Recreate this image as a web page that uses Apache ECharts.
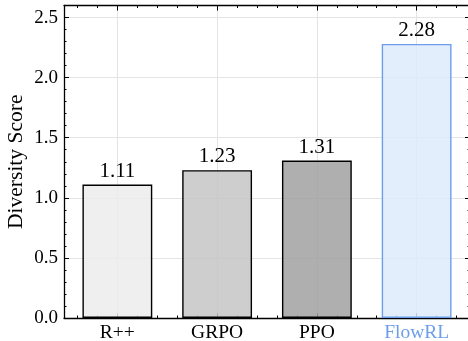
<!DOCTYPE html>
<html><head><meta charset="utf-8">
<script src="https://cdn.jsdelivr.net/npm/echarts@6/dist/echarts.min.js"></script>
<style>html,body{margin:0;padding:0;background:#fff}#c{width:468px;height:341px}</style>
</head><body><div id="c"></div>
<script>
// ---- data ----
const categories = ['R++', 'GRPO', 'PPO', 'FlowRL'];
const values = [1.11, 1.23, 1.31, 2.28];
const yTickValues = [0, 0.5, 1.0, 1.5, 2.0, 2.5];
const yMax = 2.6;

// ---- styles ----
const barFill = ['rgba(236,236,236,0.85)', 'rgba(198,198,198,0.85)', 'rgba(161,161,161,0.85)', 'rgba(222,235,253,0.85)'];
const barEdge = ['#000', '#000', '#000', '#6d9eeb'];
const labelColors = ['#000', '#000', '#000', '#6d9eeb'];
const FONT = 'Liberation Serif';
const SPINE = { color: '#000', width: 1.3 };
const GRID = { color: '#e4e4e4', width: 1 };

const xMin = -0.535, xMax = categories.length - 1 + 0.535;
const majorX = categories.map((_, i) => i);
const minorX = [];
for (let k = -2; k <= (categories.length - 1) * 5 + 2; k++) if (k % 5 !== 0) minorX.push(+(k * 0.2).toFixed(2));
const minorY = [];
for (let k = 1; k <= 25; k++) if (k % 5 !== 0) minorY.push(+(k * 0.1).toFixed(2));

function xAx(pos, ticks, len, withLabels, withLine, withSplit) {
  return {
    type: 'value', position: pos, min: xMin, max: xMax,
    axisLine: { show: withLine, onZero: false, lineStyle: SPINE },
    axisTick: { show: true, inside: true, length: len, customValues: ticks, lineStyle: { color: '#000', width: 1 } },
    axisLabel: withLabels ? {
      show: true, customValues: ticks, margin: 5,
      fontFamily: FONT, fontSize: 19.5,
      formatter: v => categories[Math.round(v)] || '',
      color: (v) => labelColors[Math.round(v)] || '#000'
    } : { show: false },
    splitLine: { show: withSplit, lineStyle: GRID }
  };
}
function yAx(pos, ticks, len, withLabels, withLine, withSplit, name) {
  const a = {
    type: 'value', position: pos, min: 0, max: yMax,
    axisLine: { show: withLine, onZero: false, lineStyle: SPINE },
    axisTick: { show: true, inside: true, length: len, customValues: ticks, lineStyle: { color: '#000', width: 1 } },
    axisLabel: withLabels ? {
      show: true, customValues: ticks, margin: 6,
      fontFamily: FONT, fontSize: 19, color: '#000',
      formatter: v => v.toFixed(1)
    } : { show: false },
    splitLine: { show: withSplit, lineStyle: GRID }
  };
  if (name) {
    a.name = name; a.nameLocation = 'middle'; a.nameGap = 37; a.nameMoveOverlap = false;
    a.nameTextStyle = { fontFamily: FONT, fontSize: 21.5, color: '#000' };
  }
  return a;
}

const chart = echarts.init(document.getElementById('c'), null, { renderer: 'canvas' });
chart.setOption({
  animation: false,
  backgroundColor: '#fff',
  grid: { left: 64, right: -2, top: 5.5, bottom: 23, containLabel: false, outerBoundsMode: 'none' },
  xAxis: [
    xAx('bottom', majorX, 5, true, true, true),
    xAx('bottom', minorX, 2.5, false, false, false),
    xAx('top', majorX, 5, false, true, false),
    xAx('top', minorX, 2.5, false, false, false)
  ],
  yAxis: [
    yAx('left', yTickValues, 5, true, true, true, 'Diversity Score'),
    yAx('left', minorY, 2.5, false, false, false),
    yAx('right', yTickValues, 5, false, true, false),
    yAx('right', minorY, 2.5, false, false, false)
  ],
  series: [{
    type: 'bar', xAxisIndex: 0, yAxisIndex: 0,
    barWidth: '70%',
    data: values.map((v, i) => ({
      value: [i, v],
      itemStyle: { color: barFill[i], borderColor: barEdge[i], borderWidth: 1.4 }
    })),
    label: {
      show: true, position: 'top', distance: 3,
      fontFamily: FONT, fontSize: 21, color: '#000',
      formatter: p => p.value[1].toFixed(2)
    }
  }]
});
</script></body></html>
